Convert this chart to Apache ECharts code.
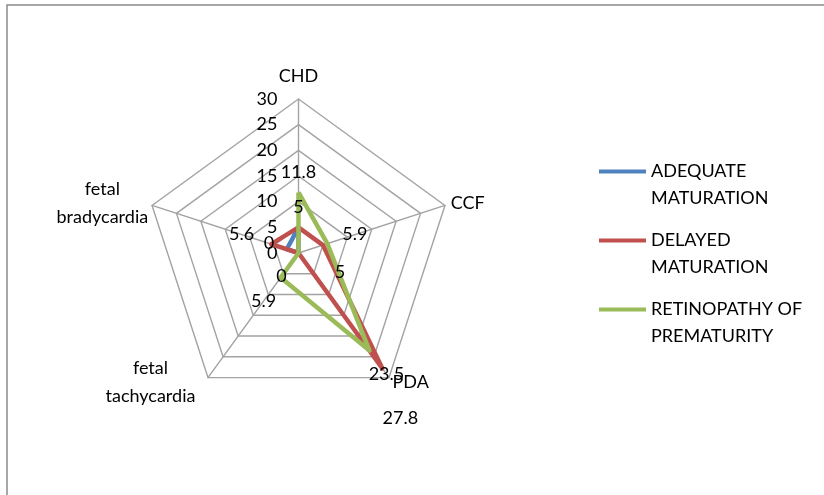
<!DOCTYPE html>
<html>
<head>
<meta charset="utf-8">
<script src="https://cdn.jsdelivr.net/npm/echarts@6/dist/echarts.min.js"></script>
<style>
  html, body { margin: 0; padding: 0; background: #ffffff; }
  #chart { width: 824px; height: 495px; }
</style>
</head>
<body>
<div id="chart"></div>
<script>
// Categories in clockwise order, starting at the top
const categories = ['CHD', 'CCF', 'PDA', 'fetal\ntachycardia', 'fetal\nbradycardia'];
const seriesNames = ['ADEQUATE MATURATION', 'DELAYED MATURATION', 'RETINOPATHY OF PREMATURITY'];
const legendLabels = ['ADEQUATE\nMATURATION', 'DELAYED\nMATURATION', 'RETINOPATHY OF\nPREMATURITY'];

// Values per category (same order as categories)
const adequate = [5, 0, 0, 0, 2.4];
const delayed = [5, 5, 27.8, 0, 5.6];
const retinopathy = [11.8, 5.9, 23.5, 5.9, 0];

const axisMin = 0;
const axisMax = 30;
const tickStep = 5;

const FONT = 'Lato, "Open Sans", sans-serif';
const FS = 18;
const colors = ['#4F81BD', '#C0504D', '#9BBB59'];
const gridColor = '#a3a3a3';

// ECharts places radar indicators counter-clockwise, so walk the categories backwards after the first
const order = [0, 4, 3, 2, 1];
const values = [adequate, delayed, retinopathy];

const chart = echarts.init(document.getElementById('chart'), null, { renderer: 'canvas' });

const indicator = order.map((ci, k) => {
  const ind = { name: categories[ci], min: axisMin, max: axisMax };
  if (k === 0) {
    ind.axisLabel = {
      show: true, margin: 21, color: '#000', fontFamily: FONT, fontSize: FS,
      showMinLabel: true, showMaxLabel: true
    };
  }
  return ind;
});

chart.setOption({
  animation: false,
  color: colors,
  legend: {
    orient: 'vertical',
    left: 594,
    top: 153,
    itemGap: 15,
    itemWidth: 47,
    itemHeight: 31,
    icon: 'path://M0,0H47V4H0Z M0,31L0.1,31',
    itemStyle: { borderWidth: 0 },
    textStyle: { fontFamily: FONT, fontSize: FS, color: '#000', lineHeight: 27 },
    formatter: name => legendLabels[seriesNames.indexOf(name)],
    data: seriesNames
  },
  radar: {
    center: [298.5, 253],
    radius: 154,
    startAngle: 90,
    splitNumber: (axisMax - axisMin) / tickStep,
    shape: 'polygon',
    nameGap: 6,
    axisName: {
      color: '#000',
      fontFamily: FONT,
      fontSize: FS,
      lineHeight: 28,
      formatter: name => {
        if (name.indexOf('bradycardia') >= 0) return name.split('\n').map(s => '{b|' + s + '}').join('\n');
        if (name.indexOf('tachycardia') >= 0) return name.split('\n').map(s => '{t|' + s + '}').join('\n');
        return name;
      },
      rich: {
        b: { width: 88, align: 'center', fontFamily: FONT, fontSize: FS, color: '#000', lineHeight: 28 },
        t: { width: 108, align: 'center', fontFamily: FONT, fontSize: FS, color: '#000', lineHeight: 28 }
      }
    },
    indicator: indicator,
    splitLine: { lineStyle: { color: gridColor, width: 1.4 } },
    splitArea: { show: false },
    axisLine: { lineStyle: { color: gridColor, width: 1.4 } },
    axisTick: { show: false },
    axisLabel: { show: false }
  },
  series: [{
    type: 'radar',
    symbol: 'none',
    data: values.map((arr, s) => ({
      name: seriesNames[s],
      value: order.map(ci => arr[ci]),
      lineStyle: { color: colors[s], width: 4.5 },
      itemStyle: { color: colors[s] }
    }))
  }]
});

// Value labels for the delayed and retinopathy series, set outward along each spoke
const labelled = [1, 2];
const outward = [20, 29, 29, 29, 31];
const extraShift = { '1-1': [17, 27], '1-2': [18, 50] };
const cs = chart.getModel().getComponent('radar', 0).coordinateSystem;
const texts = [];
labelled.forEach(s => {
  values[s].forEach((v, ci) => {
    const k = order.indexOf(ci);
    const p = cs.dataToPoint(v, k);
    const o = cs.dataToPoint(axisMin, k);
    const e = cs.dataToPoint(axisMax, k);
    const len = Math.hypot(e[0] - o[0], e[1] - o[1]);
    const ux = (e[0] - o[0]) / len, uy = (e[1] - o[1]) / len;
    const shift = extraShift[s + '-' + ci];
    const x = shift ? p[0] + shift[0] : p[0] + ux * outward[ci];
    const y = shift ? p[1] + shift[1] : p[1] + uy * outward[ci];
    texts.push({
      type: 'text', x: x, y: y, z: 100,
      style: { text: String(v), fill: '#000', font: FS + 'px ' + FONT, align: 'center', verticalAlign: 'middle' }
    });
  });
});

// Outer frame of the chart area
texts.push({
  type: 'rect', z: -1, silent: true,
  shape: { x: 7, y: 5, width: 840, height: 520 },
  style: { fill: 'none', stroke: '#8a8a8a', lineWidth: 1.5 }
});

chart.setOption({ graphic: texts });
</script>
</body>
</html>
